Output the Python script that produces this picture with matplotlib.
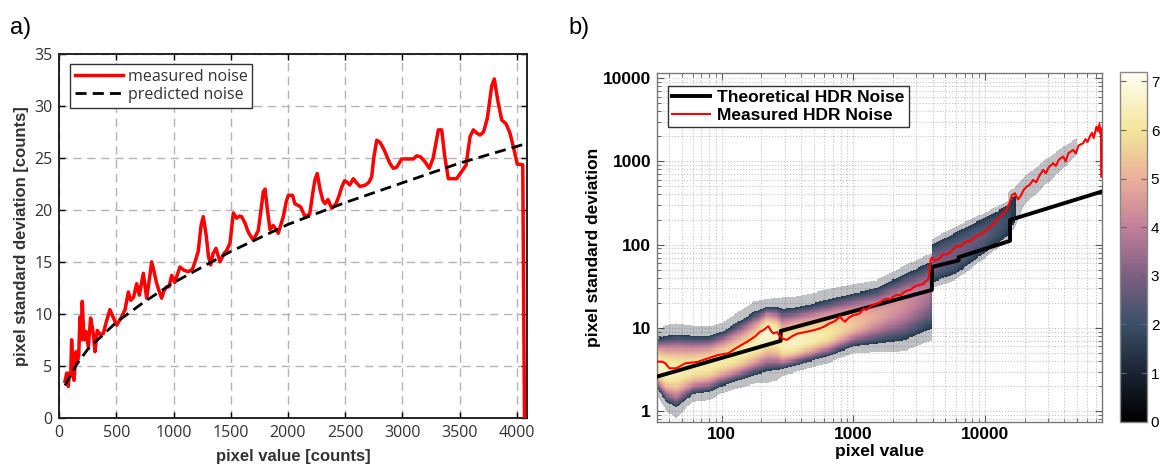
import numpy as np
import matplotlib
matplotlib.use("Agg")
import matplotlib.pyplot as plt
from matplotlib.colors import LinearSegmentedColormap
from matplotlib.lines import Line2D
from matplotlib.ticker import FuncFormatter, LogLocator

# ---- panel a: noise of a single exposure (linear axes) ----
meas_x = [50, 65, 79, 88, 100, 108, 118, 129, 146, 160, 170, 181, 190, 201, 216, 233, 254,
          274, 290, 298, 312, 332, 360, 385, 408, 443, 470, 502, 540, 575, 604, 625, 650,
          677, 700, 735, 764, 790, 808, 830, 850, 870, 895, 915, 939, 960, 983, 1010, 1040,
          1055, 1090, 1128, 1165, 1187, 1215, 1240, 1259, 1283, 1305, 1324, 1345, 1370,
          1405, 1440, 1464, 1493, 1510, 1522, 1551, 1575, 1595, 1625, 1655, 1697, 1740,
          1770, 1784, 1800, 1820, 1843, 1870, 1890, 1915, 1959, 1985, 2003, 2040, 2060,
          2076, 2110, 2149, 2190, 2215, 2236, 2256, 2280, 2305, 2324, 2350, 2382, 2420,
          2445, 2470, 2495, 2513, 2540, 2571, 2600, 2629, 2680, 2710, 2732, 2750, 2776,
          2805, 2840, 2863, 2890, 2921, 2950, 2994, 3040, 3096, 3125, 3160, 3200, 3236,
          3270, 3300, 3315, 3344, 3370, 3402, 3440, 3475, 3519, 3557, 3592, 3621, 3650,
          3679, 3710, 3743, 3781, 3804, 3835, 3869, 3906, 3941, 3970, 4005, 4053, 4062, 4068]
meas_y = [3.5, 4.3, 3.0, 4.3, 4.0, 7.5, 5.0, 3.6, 6.35, 5.5, 6.0, 9.7, 7.5, 11.2, 7.5, 8.3, 6.8,
          9.6, 8.6, 8.0, 6.35, 8.4, 8.0, 8.1, 9.1, 10.4, 9.7, 8.9, 9.6, 10.4, 12.1, 11.3, 11.6,
          12.9, 11.8, 13.9, 11.5, 13.5, 15.0, 14.0, 13.0, 12.3, 11.5, 12.2, 12.6, 12.6, 13.7,
          13.0, 14.0, 14.5, 14.2, 14.05, 14.3, 15.0, 16.0, 18.5, 19.35, 17.7, 15.5, 14.7,
          15.8, 16.3, 15.0, 15.8, 16.1, 16.8, 18.5, 19.7, 19.2, 19.4, 19.35, 18.7, 17.8,
          17.1, 18.0, 20.5, 21.75, 22.0, 20.0, 18.1, 18.5, 18.2, 17.75, 19.35, 20.8, 21.4,
          21.4, 20.6, 20.5, 20.3, 19.35, 19.6, 21.5, 22.9, 23.5, 22.0, 20.9, 20.6, 21.0,
          20.15, 20.6, 21.3, 22.2, 22.8, 22.7, 22.4, 23.0, 22.6, 22.25, 22.4, 22.7, 23.2,
          25.0, 26.7, 26.5, 25.8, 25.2, 24.5, 24.0, 24.1, 24.9, 24.9, 24.9, 25.2, 25.1,
          24.6, 24.0, 25.0, 26.8, 27.7, 27.7, 25.2, 23.0, 23.0, 23.0, 23.7, 24.3, 27.05,
          27.7, 27.4, 27.2, 27.5, 28.8, 31.9, 32.6, 30.5, 28.65, 28.3, 27.4, 26.1, 24.4,
          24.35, 10.0, 0.0]
pred_x = [50, 150, 250, 500, 750, 1000, 1500, 2000, 2500, 3000, 3500, 4060]
pred_y = [3.1, 5.1, 6.6, 9.2, 11.2, 13.0, 16.0, 18.6, 20.7, 22.6, 24.5, 26.3]

# ---- panel b: HDR noise (log axes) ----
theo_x = [32, 280, 280, 3950, 3950, 6300, 6300, 15500, 15500, 77000]
theo_y = [2.6, 7.0, 9.2, 28.6, 54, 64.5, 70.5, 111, 198, 433]

hdr_x = [32, 35, 37, 40, 45, 53, 65, 79, 94, 112, 130, 155, 179, 195, 207, 226, 237, 247, 262,
         286, 312, 340, 372, 410, 442, 500, 558, 600, 664, 720, 791, 830, 863, 920, 1000,
         1060, 1122, 1190, 1260, 1337, 1416, 1500, 1592, 1687, 1800, 1900, 2010, 2130, 2260,
         2400, 2540, 2692, 2850, 3000, 3207, 3400, 3550, 3700, 3780, 3860, 3950, 4100, 4300,
         4540, 4820, 5100, 5410, 5750, 6080, 6440, 6900, 7245, 7670, 8130, 8630, 9140, 9700,
         10280, 11000, 11600, 12250, 13000, 13700, 14600, 15500, 16000, 16870, 17800, 18600,
         19600, 20700, 21800, 23200, 24500, 26000, 27700, 29000, 30500, 33000, 34500, 36500,
         39300, 41000, 43000, 46800, 49000, 51500, 55700, 58000, 60000, 62600, 65000, 67000,
         70300, 72000, 74000, 75300, 76000, 76500]
hdr_y = [3.94, 3.94, 3.8, 3.28, 3.28, 3.77, 3.9, 4.33, 4.74, 4.97, 5.8, 6.8, 7.9, 9.0, 9.4,
         10.5, 9.2, 8.6, 8.9, 7.5, 7.2, 7.9, 8.5, 8.8, 9.0, 9.4, 9.9, 10.4, 11.4, 12.0, 13.7,
         12.5, 11.9, 13.2, 14.3, 14.5, 15.0, 17.0, 16.5, 18.0, 18.9, 19.5, 20.3, 21.7, 22.5,
         22.0, 23.8, 24.9, 24.6, 26.5, 28.0, 28.6, 30.5, 32.0, 33.0, 33.5, 36.5, 38.0, 45.0,
         66.0, 70.0, 64.0, 65.5, 68.7, 77.0, 76.0, 80.0, 88.0, 97.0, 94.6, 103.0, 110.0,
         109.0, 118.0, 128.0, 131.0, 140.0, 150.0, 165.0, 175.0, 198.0, 215.0, 235.0, 261.0,
         330.0, 390.0, 414.0, 350.0, 380.0, 450.0, 497.0, 520.0, 598.0, 560.0, 680.0, 788.0,
         720.0, 850.0, 948.0, 880.0, 1050.0, 1140.0, 1000.0, 1250.0, 1370.0, 1250.0, 1550.0,
         1650.0, 1850.0, 1700.0, 1980.0, 2200.0, 1900.0, 2610.0, 2300.0, 2800.0, 2170.0,
         2500.0, 655.0]

# dense part of the 2-D histogram: ridge, lower/upper edge and peak level per pixel value
band_x = [32, 38, 45, 60, 80, 100, 130, 175, 220, 260, 290, 350, 450, 650, 1000, 1500,
          2500, 3700, 3950, 3960, 6000, 10000, 15000, 17000]
band_mid = [3.5, 3.0, 3.0, 3.2, 3.5, 4.0, 4.6, 6.0, 9.0, 8.0, 6.0, 6.5, 7.2, 8.5, 11.0,
            14.0, 20.0, 28.0, 30.0, 60.0, 80.0, 130.0, 200.0, 300.0]
band_lo = [1.9, 1.3, 1.1, 1.6, 1.7, 2.0, 2.3, 2.7, 3.0, 3.1, 3.2, 3.5, 3.9, 4.6, 6.0, 6.5,
           7.2, 9.5, 10.0, 35.0, 45.0, 80.0, 130.0, 200.0]
band_hi = [7.5, 8.0, 8.3, 8.0, 8.0, 9.0, 11.5, 15.5, 18.0, 18.0, 17.0, 17.5, 19.0, 22.0,
           26.0, 30.0, 45.0, 60.0, 62.0, 100.0, 140.0, 210.0, 300.0, 400.0]
band_peak = [6.8, 6.6, 6.4, 6.2, 6.2, 6.2, 6.2, 6.3, 6.8, 6.6, 6.3, 6.6, 6.4, 6.1, 5.4, 4.8,
             4.3, 3.8, 3.3, 3.0, 2.8, 2.5, 2.0, 1.3]

# sparse scatter beyond the dense band (few counts per bin)
sparse_x = [15000, 20000, 30000, 42000, 50000]
sparse_lo = [110, 300, 550, 900, 1200]
sparse_hi = [420, 650, 1100, 1600, 1900]

# colour scale used by the histogram
cmap_colors = ["#000000", "#1a2332", "#3a5068", "#7d5f82", "#c27f9a", "#eab09a",
               "#f3e59a", "#fffff4"]
cmap_levels = [0, 1, 2, 3, 4, 5, 6, 7.2]

plt.rcParams["font.family"] = ["Liberation Sans", "DejaVu Sans"]

fig = plt.figure(figsize=(11.6, 4.66), dpi=100)

# ================= panel a =================
ax = fig.add_axes([0.0511, 0.1036, 0.4032, 0.7805])
ax.plot(meas_x, meas_y, color="red", lw=2.5, zorder=3, solid_joinstyle="round")
ax.plot(pred_x, pred_y, color="black", lw=2.0, ls=(0, (4, 2.2)), zorder=4)
ax.set_xlim(0, 4090)
ax.set_ylim(0, 35)
ax.set_xticks(np.arange(0, 4001, 500))
ax.set_yticks(np.arange(0, 36, 5))
ax.grid(True, color="#b4b4b4", ls=(0, (6, 4)), lw=1.0)
ax.set_axisbelow(True)
ax.tick_params(direction="in", top=True, right=True, length=4, width=1,
               labelsize=11.5, labelcolor="#333333", pad=5)
for lab in ax.get_xticklabels() + ax.get_yticklabels():
    lab.set_family(["Open Sans", "DejaVu Sans"])
for sp in ax.spines.values():
    sp.set_linewidth(1.4)
    sp.set_color("#222222")
ax.set_xlabel("pixel value [counts]", fontsize=12, fontweight="bold", color="#333333",
              labelpad=6)
ax.set_ylabel("pixel standard deviation [counts]", fontsize=12, fontweight="bold",
              color="#333333", labelpad=4)
leg_a = ax.legend(
    [Line2D([], [], color="red", lw=2.5), Line2D([], [], color="black", lw=2.0, ls=(0, (4, 2.2)))],
    ["measured noise", "predicted noise"],
    loc="upper left", bbox_to_anchor=(0.006, 0.995), fancybox=False, framealpha=1,
    edgecolor="#333333", handlelength=3.0, handletextpad=0.3, borderpad=0.3,
    labelspacing=0.15, prop={"family": ["Open Sans", "DejaVu Sans"], "size": 11.5})
leg_a.get_frame().set_linewidth(1.0)
for t in leg_a.get_texts():
    t.set_color("#333333")

# ================= panel b =================
bx = fig.add_axes([0.5661, 0.0951, 0.3836, 0.749])
bx.set_xscale("log")
bx.set_yscale("log")

cmap = LinearSegmentedColormap.from_list(
    "hdr", list(zip(np.array(cmap_levels) / cmap_levels[-1], cmap_colors)))

lx_edges = np.linspace(np.log10(32), np.log10(77000), 420)
ly_edges = np.linspace(np.log10(0.75), np.log10(11600), 320)
lx = 0.5 * (lx_edges[1:] + lx_edges[:-1])
ly = 0.5 * (ly_edges[1:] + ly_edges[:-1])

# dense band: brightest on the ridge, dark at the rim
lbx = np.log10(band_x)
mid = np.interp(lx, lbx, np.log10(band_mid))
lo = np.interp(lx, lbx, np.log10(band_lo))
hi = np.interp(lx, lbx, np.log10(band_hi))
peak = np.interp(lx, lbx, band_peak)
inside = (lx >= lbx[0]) & (lx <= lbx[-1])

LY, MID = np.meshgrid(ly, mid, indexing="ij")
LO = np.broadcast_to(lo, LY.shape)
HI = np.broadcast_to(hi, LY.shape)
PK = np.broadcast_to(peak, LY.shape)
t = np.where(LY >= MID, (LY - MID) / (HI - MID), (MID - LY) / (MID - LO))
edge = np.minimum(1.4, PK)
core = edge + (PK - edge) * np.clip(1 - t ** 1.8, 0, 1)
core = np.where((t <= 1) & inside[None, :], core, np.nan)
halo = np.where((t > 1) & (t <= 1.3) & inside[None, :], 1.0, np.nan)

# sparse scatter at the bright end
lsx = np.log10(sparse_x)
s_lo = np.interp(lx, lsx, np.log10(sparse_lo))
s_hi = np.interp(lx, lsx, np.log10(sparse_hi))
s_in = (lx >= lsx[0]) & (lx <= lsx[-1])
sparse = (LY >= s_lo[None, :]) & (LY <= s_hi[None, :]) & s_in[None, :]
halo = np.where(sparse & np.isnan(core), 1.0, halo)

X, Y = 10 ** lx_edges, 10 ** ly_edges
bx.pcolormesh(X, Y, np.ma.masked_invalid(halo), cmap=cmap, vmin=0, vmax=7.2,
              alpha=0.28, shading="flat", zorder=1, rasterized=True)
mesh = bx.pcolormesh(X, Y, np.ma.masked_invalid(core), cmap=cmap, vmin=0, vmax=7.2,
                     shading="flat", zorder=1.5, rasterized=True)

bx.plot(theo_x, theo_y, color="black", lw=2.8, zorder=3, label="Theoretical HDR Noise")
bx.plot(hdr_x, hdr_y, color="red", lw=1.5, zorder=4, label="Measured HDR Noise")

bx.set_xlim(32, 77000)
bx.set_ylim(0.75, 11600)
bx.xaxis.set_major_locator(LogLocator(base=10, numticks=10))
bx.yaxis.set_major_locator(LogLocator(base=10, numticks=10))
bx.xaxis.set_minor_locator(LogLocator(base=10, subs=np.arange(2, 10), numticks=20))
bx.yaxis.set_minor_locator(LogLocator(base=10, subs=np.arange(2, 10), numticks=20))
fmt = FuncFormatter(lambda v, p: f"{v:g}")
bx.xaxis.set_major_formatter(fmt)
bx.yaxis.set_major_formatter(fmt)
bx.grid(True, which="both", color="#c4c4c4", ls=":", lw=0.8)
bx.set_axisbelow(True)
bx.tick_params(which="both", direction="in", top=True, right=True, color="#555555")
bx.tick_params(which="major", length=5, width=0.8, labelsize=12.5, pad=4)
bx.tick_params(which="minor", length=3, width=0.6)
for lab in bx.get_xticklabels() + bx.get_yticklabels():
    lab.set_fontweight("bold")
for sp in bx.spines.values():
    sp.set_linewidth(1.0)
    sp.set_color("#777777")
bx.set_xlabel("pixel value", fontsize=12.5, fontweight="bold", labelpad=1)
bx.set_ylabel("pixel standard deviation", fontsize=12.5, fontweight="bold", labelpad=1)
leg_b = bx.legend(loc="upper left", bbox_to_anchor=(0.005, 0.987), fancybox=False,
                  framealpha=1, edgecolor="#333333", handlelength=2.2, handletextpad=0.4,
                  borderpad=0.25, labelspacing=0.15,
                  prop={"weight": "bold", "size": 12.5})
leg_b.get_frame().set_linewidth(1.0)

cax = fig.add_axes([0.9655, 0.0951, 0.023, 0.751])
cb = fig.colorbar(mesh, cax=cax, ticks=range(8))
cb.outline.set_edgecolor("#888888")
cb.outline.set_linewidth(1.0)
cax.tick_params(direction="in", length=4, width=0.8, left=True, right=True,
                labelsize=11, color="#666666", pad=3)

fig.text(10 / 1160, 1 - 28 / 466, "a)", fontsize=17, va="center", ha="left")
fig.text(568 / 1160, 1 - 28 / 466, "b)", fontsize=17, va="center", ha="left")

fig.savefig("out.png", dpi=100)
